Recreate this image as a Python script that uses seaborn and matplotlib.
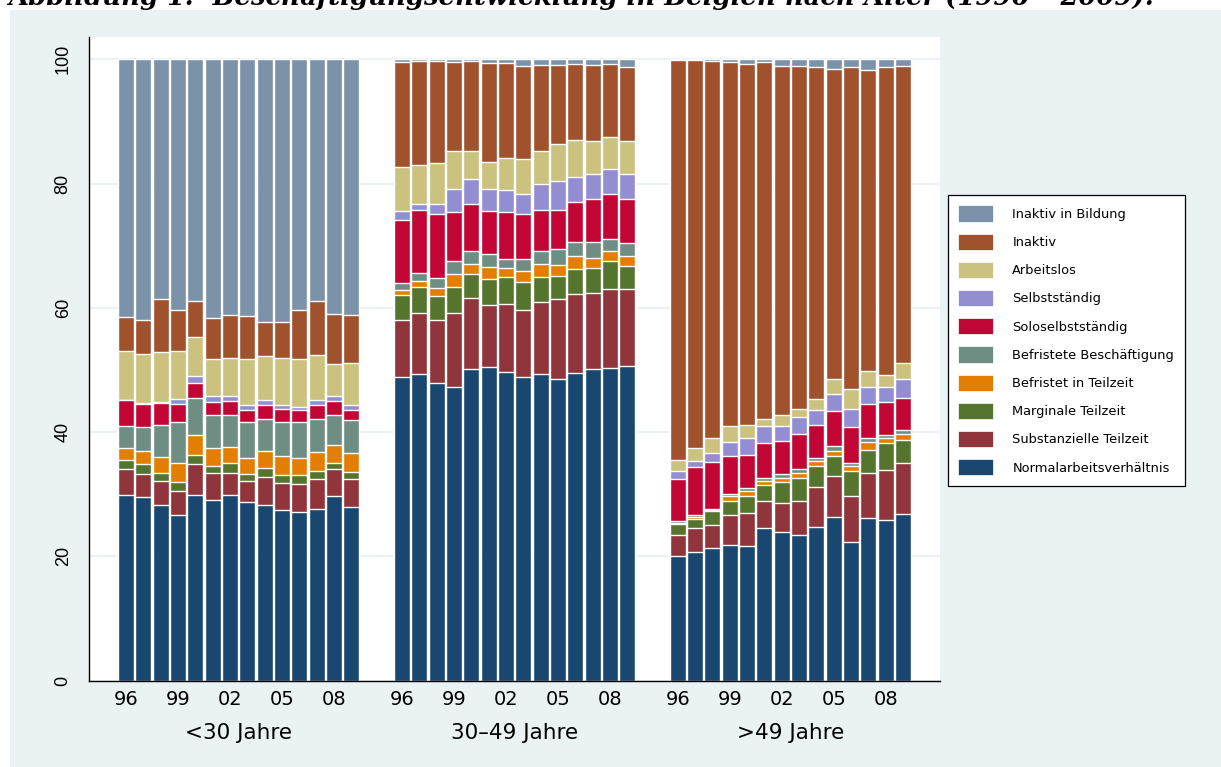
import numpy as np
import pandas as pd
import seaborn as sns
import matplotlib.pyplot as plt
from matplotlib.patches import Patch, Rectangle

sns.set_style("white")
plt.rcParams['font.family'] = ['DejaVu Sans']
plt.rcParams['text.color'] = 'black'
plt.rcParams['xtick.color'] = 'black'
plt.rcParams['ytick.color'] = 'black'

#--------------------------------------------------------------------------
# Daten: Beschäftigungsformen in Belgien nach Alter, 1996-2009
gruppen = ['<30 Jahre', '30–49 Jahre', '>49 Jahre']
jahre = list(range(1996, 2010))
jahr_ticks = [0, 3, 6, 9, 12]
jahr_labels = ['96', '99', '02', '05', '08']

kategorien = ['Normalarbeitsverhältnis', 'Substanzielle Teilzeit', 'Marginale Teilzeit',
              'Befristet in Teilzeit', 'Befristete Beschäftigung', 'Soloselbstständig',
              'Selbstständig', 'Arbeitslos', 'Inaktiv', 'Inaktiv in Bildung']
farben = ['#1a476f', '#90353b', '#55752f', '#e37e00', '#6e8e84',
          '#c10534', '#938dd2', '#cac27e', '#a0522d', '#7b92a8']

# kumulierte Anteile in % (Oberkante jedes Segments), je Gruppe 1996-2009
kum_normal = [29.9, 29.6, 28.2, 26.7, 29.9, 29.1, 29.9, 28.8, 28.2, 27.4, 27.2, 27.7, 29.7, 27.9,
              48.9, 49.4, 47.9, 47.2, 50.1, 50.5, 49.7, 48.8, 49.4, 48.6, 49.5, 50.1, 50.3, 50.7,
              20.1, 20.7, 21.3, 21.9, 21.6, 24.5, 23.9, 23.5, 24.7, 26.4, 22.4, 26.2, 25.9, 26.8]
kum_subst = [34.0, 33.3, 32.1, 30.6, 34.8, 33.4, 33.4, 32.2, 32.8, 31.8, 31.7, 32.4, 34.1, 32.4,
             58.0, 59.1, 58.0, 59.2, 61.6, 60.4, 60.7, 59.7, 60.9, 61.4, 62.2, 62.4, 63.0, 63.0,
             23.5, 24.5, 25.1, 26.6, 27.0, 29.0, 28.6, 29.0, 31.2, 33.0, 29.7, 33.5, 33.9, 35.1]
kum_marg = [35.6, 34.8, 33.5, 31.9, 36.3, 34.6, 35.1, 33.3, 34.2, 33.1, 33.1, 33.7, 35.1, 33.6,
            62.0, 63.4, 61.9, 63.4, 65.5, 64.6, 64.9, 64.2, 64.9, 65.2, 66.3, 66.4, 67.6, 66.8,
            25.2, 26.1, 27.3, 29.0, 29.8, 31.5, 32.0, 32.6, 34.6, 36.1, 33.8, 37.2, 38.3, 38.7]
kum_beftz = [37.5, 36.9, 36.0, 35.1, 39.6, 37.4, 37.6, 35.9, 37.0, 36.1, 35.9, 36.8, 38.0, 36.7,
             62.9, 64.4, 63.2, 65.4, 67.1, 66.6, 66.5, 65.9, 67.1, 66.9, 68.4, 68.1, 69.1, 68.4,
             25.4, 26.4, 27.5, 29.7, 30.5, 32.1, 32.6, 33.5, 35.3, 37.0, 34.5, 38.4, 39.1, 39.7]
kum_befr = [41.0, 40.8, 41.2, 41.7, 45.5, 42.8, 42.7, 41.6, 42.1, 41.7, 41.6, 42.1, 42.8, 41.9,
            64.0, 65.6, 64.8, 67.5, 69.2, 68.6, 67.9, 67.8, 69.2, 69.4, 70.6, 70.6, 71.1, 70.5,
            25.7, 26.7, 27.7, 30.1, 31.0, 32.6, 33.3, 34.1, 35.9, 37.7, 35.1, 39.1, 39.6, 40.3]
kum_solo = [45.1, 44.6, 44.7, 44.6, 47.9, 44.9, 45.0, 43.6, 44.3, 43.7, 43.5, 44.3, 45.0, 43.6,
            74.2, 75.7, 75.1, 75.4, 76.7, 75.6, 75.4, 75.1, 75.8, 75.8, 77.0, 77.5, 78.4, 77.6,
            32.5, 34.4, 35.2, 36.1, 36.4, 38.3, 38.5, 39.7, 41.1, 43.4, 40.8, 44.6, 44.8, 45.5]
kum_selb = [45.2, 44.7, 44.8, 45.4, 49.0, 45.8, 45.8, 44.4, 45.2, 44.3, 44.1, 45.1, 45.8, 44.3,
            75.6, 76.8, 76.7, 79.1, 80.7, 79.1, 79.0, 78.3, 79.9, 80.4, 81.0, 81.5, 82.4, 81.5,
            33.7, 35.3, 36.7, 38.4, 39.1, 41.0, 41.0, 42.5, 43.5, 46.2, 43.7, 47.3, 47.2, 48.5]
kum_arbl = [53.1, 52.6, 52.9, 53.0, 55.3, 51.7, 52.0, 51.8, 52.2, 52.0, 51.7, 52.4, 51.0, 51.2,
            82.7, 83.0, 83.4, 85.2, 85.2, 83.5, 84.1, 83.9, 85.2, 86.3, 87.0, 86.8, 87.5, 86.8,
            35.5, 37.5, 39.0, 41.0, 41.1, 42.1, 42.7, 43.7, 45.3, 48.6, 46.9, 49.9, 49.2, 51.2]
kum_inakt = [58.5, 58.0, 61.5, 59.6, 61.1, 58.4, 58.9, 58.7, 57.7, 57.7, 59.6, 61.1, 59.0, 58.8,
             99.6, 99.7, 99.7, 99.5, 99.7, 99.4, 99.4, 98.9, 99.1, 99.1, 99.3, 99.1, 99.2, 98.8,
             99.9, 99.9, 99.8, 99.6, 99.2, 99.5, 99.0, 98.9, 98.8, 98.5, 98.8, 98.3, 98.8, 99.0]
kum_bildung = [100.0] * 42

kum_listen = [kum_normal, kum_subst, kum_marg, kum_beftz, kum_befr,
              kum_solo, kum_selb, kum_arbl, kum_inakt, kum_bildung]

#--------------------------------------------------------------------------
# Tabelle im Langformat
GRUPPEN_ABSTAND = 15.92   # Abstand der Gruppen in Balkenbreiten
zeilen = []
for kat, werte in zip(kategorien, kum_listen):
    for k, wert in enumerate(werte):
        g, j = divmod(k, len(jahre))
        zeilen.append({'kat': kat, 'gruppe': gruppen[g], 'jahr': jahre[j],
                       'pos': g * GRUPPEN_ABSTAND + j, 'kum': wert})
df = pd.DataFrame(zeilen)

#--------------------------------------------------------------------------
W, H = 1221, 767
fig = plt.figure(figsize=(W / 100, H / 100), dpi=100)
fig.patch.set_facecolor('white')
fig.add_artist(Rectangle((10 / W, 0), (W - 10) / W, (H - 10) / H, transform=fig.transFigure,
                         facecolor='#EAF2F3', edgecolor='none', zorder=0))

ax = fig.add_axes([89 / W, 1 - 680.7 / H, (940 - 89) / W, (680.7 - 37) / H])
ax.set_facecolor('white')

# gestapelte Balken: von oben (100 %) nach unten übereinander zeichnen
for kat, farbe in reversed(list(zip(kategorien, farben))):
    sub = df[df['kat'] == kat]
    sns.barplot(data=sub, x='pos', y='kum', native_scale=True, color=farbe, saturation=1,
                width=0.92, edgecolor='white', linewidth=1.0, errorbar=None, ax=ax)

ax.set_xlim(-2.135, 46.97)
ax.set_ylim(0, 103.6)
ax.set_xlabel('')
ax.set_ylabel('')

# Achsen
ax.set_yticks([0, 20, 40, 60, 80, 100])
ax.yaxis.grid(True, color='#EAF2F3', linewidth=1.5)
ax.set_axisbelow(True)
ax.tick_params(axis='y', length=6.5, width=1, color='black', labelcolor='black', pad=6, labelsize=13)
for lab in ax.get_yticklabels():
    lab.set_rotation(90)
    lab.set_va('center')
    lab.set_ha('right')
    lab.set_family('Liberation Sans')

xt = [g * GRUPPEN_ABSTAND + t for g in range(3) for t in jahr_ticks]
ax.set_xticks(xt)
ax.set_xticklabels(jahr_labels * 3)
ax.tick_params(axis='x', length=0, pad=7, labelsize=14, labelcolor='black')

for s in ['top', 'right']:
    ax.spines[s].set_visible(False)
for s in ['left', 'bottom']:
    ax.spines[s].set_color('black')
    ax.spines[s].set_linewidth(1.0)

# Gruppenbeschriftung
for g, name in enumerate(gruppen):
    ax.annotate(name, xy=(g * GRUPPEN_ABSTAND + 6.5, -0.0808), xycoords=('data', 'axes fraction'),
                ha='center', va='center', fontsize=15.5, color='black')

#--------------------------------------------------------------------------
# Legende
handles = [Patch(facecolor=c, edgecolor='white', linewidth=0.5) for c in farben][::-1]
leg = fig.legend(handles, kategorien[::-1], loc='upper left',
                 bbox_to_anchor=(948 / W, 1 - 195 / H), bbox_transform=fig.transFigure,
                 frameon=True, fancybox=False, edgecolor='black', framealpha=1,
                 fontsize=9.4, handlelength=2.68, handleheight=1.53, labelspacing=0.92,
                 borderpad=0.8, handletextpad=1.45, borderaxespad=0, labelcolor='black')
leg.get_frame().set_linewidth(0.9)

#--------------------------------------------------------------------------
# Titel (oben abgeschnitten wie im Original)
titel = 'Abbildung 1:  Beschäftigungsentwicklung in Belgien nach Alter (1996 – 2009).'
t = fig.text(8 / W, 1 - 5 / H, titel, family='DejaVu Serif', weight='bold', style='italic',
             fontsize=20, ha='left', va='baseline', color='black')
r = fig.canvas.get_renderer()
breite = t.get_window_extent(r).width
t.set_fontsize(20 * 1140 / breite)

fig.savefig('out.png', dpi=100, facecolor=fig.get_facecolor())
